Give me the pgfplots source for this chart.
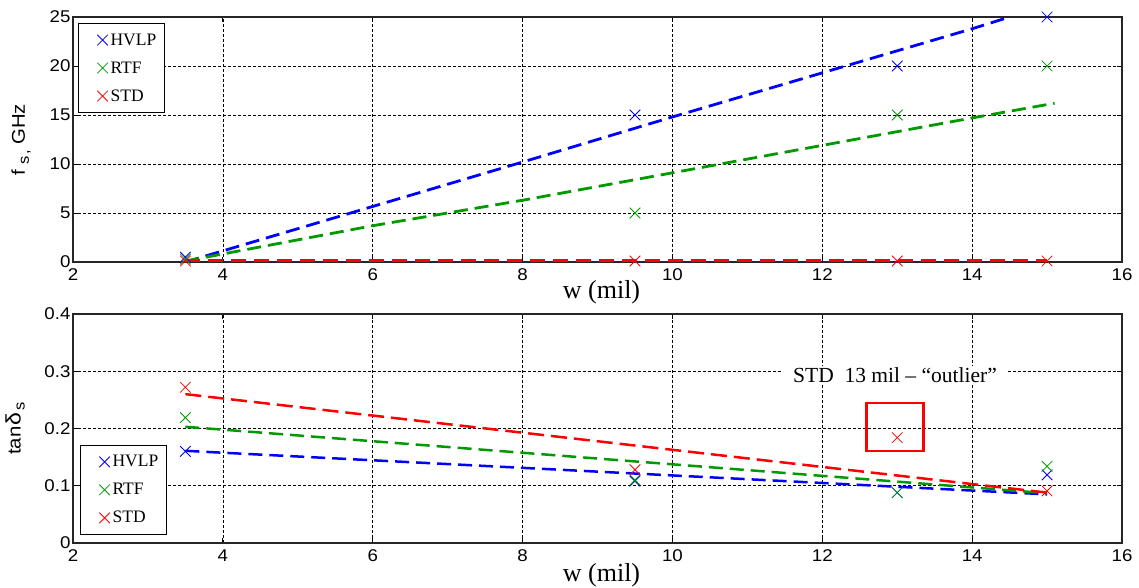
\documentclass[border=0pt]{standalone}
\usepackage{pgfplots}
\pgfplotsset{compat=1.18}
\usepackage{fontspec}
\setmainfont{Liberation Serif}
\newfontfamily\sansf[FakeStretch=1.1]{Liberation Sans}
\definecolor{mblue}{rgb}{0,0,1}
\definecolor{mgreen}{rgb}{0,0.6,0}
\definecolor{mred}{rgb}{1,0,0}
\pgfplotsset{
 mystyle/.style={
  scale only axis, width=1049pt,
  xmin=2, xmax=16, xtick={2,4,...,16},
  grid=major,
  major grid style={black, line width=0.7pt, dash pattern=on 2.5pt off 2.5pt},
  axis line style={line width=1.2pt, black!85},
  tick align=inside, major tick length=5pt, tick style={black, line width=0.8pt},
  ticklabel style={font=\sansf\fontsize{17}{17}\selectfont, text=black},
  /pgf/number format/assume math mode=true,
  xticklabel style={yshift=-3pt},
  yticklabel style={xshift=1pt},
  legend style={draw=black, line width=1.2pt, font=\fontsize{17.5}{17.5}\selectfont,
    inner xsep=6pt, inner ysep=8pt, row sep=11pt, cells={anchor=west}},
 },
 mk/.style={only marks, mark=x, mark size=7.5pt, mark options={line width=0.8pt, solid},
   legend image code/.code={\path[draw=none, fill=none] (0pt,-1pt) rectangle (24pt,1pt);
     \draw[##1, only marks] plot coordinates {(18pt,0pt)};}},
 fit/.style={no marks, line width=2.8pt, dash pattern=on 14pt off 7pt},
}
\begin{document}
\begin{tikzpicture}
\path[use as bounding box] (0,0) rectangle (1139pt,588pt);
% ---------------- top ----------------
\begin{axis}[mystyle,
  at={(73pt,326pt)}, anchor=south west, height=245pt,
  ymin=0, ymax=25, ytick={0,5,...,25},
  xlabel={w (mil)},
  xlabel style={font=\fontsize{26}{26}\selectfont, at={(rel axis cs:0.5,0)}, anchor=base, yshift=-37pt, xshift=4pt},
  ylabel={f\kern5pt\raisebox{-4pt}{\fontsize{15}{15}\selectfont s\kern2pt,}\kern5pt GHz},
  ylabel style={font=\sansf\fontsize{18.5}{18.5}\selectfont, at={(rel axis cs:-0.0458,0.5)}, anchor=base},
  legend style={at={(rel axis cs:0,1)}, anchor=north west, xshift=5pt, yshift=-6pt},
]
\addplot[mk, color=mblue] coordinates {(3.5,0.5) (9.5,15) (13,20) (15,25)};
\addlegendentry{HVLP}
\addplot[mk, color=mgreen] coordinates {(3.5,0.3) (9.5,5) (13,15) (15,20)};
\addlegendentry{RTF}
\addplot[mk, color=mred] coordinates {(3.5,0.1) (9.5,0.1) (13,0.1) (15,0.1)};
\addlegendentry{STD}
\addplot[fit, color=mblue, forget plot] coordinates {(3.5,0) (8,10.2) (10,14.8) (12,19.3) (14,23.8) (14.5,25)};
\addplot[fit, color=mgreen, forget plot] coordinates {(3.5,0.1) (6,3.7) (8,6.3) (10,9.1) (12,11.9) (14,14.7) (15.1,16.2)};
\addplot[fit, color=mred, line width=3.8pt, dash pattern=on 15pt off 8pt, forget plot] coordinates {(3.5,0.12) (15,0.12)};
\end{axis}
% ---------------- bottom ----------------
\begin{axis}[mystyle,
  at={(73pt,45pt)}, anchor=south west, height=229pt,
  ymin=0, ymax=0.4, ytick={0,0.1,...,0.4},
  yticklabel style={/pgf/number format/fixed, /pgf/number format/precision=1},
  xlabel={w (mil)},
  xlabel style={font=\fontsize{26}{26}\selectfont, at={(rel axis cs:0.5,0)}, anchor=base, yshift=-39pt, xshift=4pt},
  ylabel={tan\kern1.5pt{\fontsize{21}{21}\selectfont δ}\kern2pt\raisebox{-4pt}{\fontsize{15}{15}\selectfont s}},
  ylabel style={font=\sansf\fontsize{18.5}{18.5}\selectfont, at={(rel axis cs:-0.050,0.5)}, anchor=base},
  legend style={at={(rel axis cs:0,0)}, anchor=south west, xshift=7pt, yshift=8pt},
]
\addplot[mk, color=mblue] coordinates {(3.5,0.160) (9.5,0.108) (13,0.088) (15,0.119)};
\addlegendentry{HVLP}
\addplot[mk, color=mgreen] coordinates {(3.5,0.219) (9.5,0.110) (13,0.088) (15,0.134)};
\addlegendentry{RTF}
\addplot[mk, color=mred] coordinates {(3.5,0.272) (9.5,0.128) (13,0.184) (15,0.091)};
\addlegendentry{STD}
\addplot[fit, color=mblue, line width=2.5pt, forget plot] coordinates {(3.5,0.161) (15,0.085)};
\addplot[fit, color=mgreen, line width=2.5pt, forget plot] coordinates {(3.5,0.203) (15,0.087)};
\addplot[fit, color=mred, line width=2.5pt, dash pattern=on 16pt off 7pt, forget plot] coordinates {(3.5,0.260) (15,0.088)};
\node[fill=white, inner xsep=10pt, inner ysep=2pt, anchor=base, font=\fontsize{21.5}{21.5}\selectfont] at (axis cs:12.97,0.2795) {STD\ \ 13 mil – “outlier”};
\draw[mred, line width=2.8pt] (axis cs:12.59,0.1607) rectangle (axis cs:13.35,0.2445);
\end{axis}
\end{tikzpicture}
\end{document}
